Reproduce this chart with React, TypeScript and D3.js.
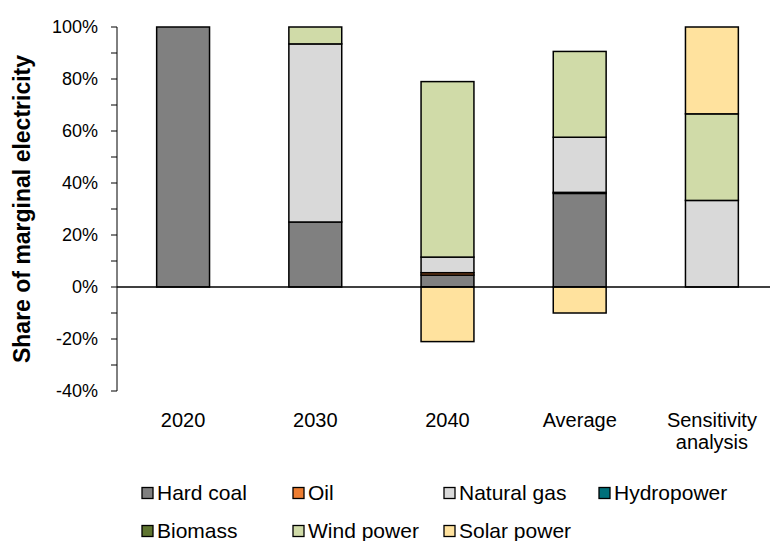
import React from "react";
import * as d3 from "d3";

const categories = ["2020", "2030", "2040", "Average", "Sensitivity analysis"];
const seriesNames = ["Hard coal", "Oil", "Natural gas", "Hydropower", "Biomass", "Wind power", "Solar power"];
const seriesColors = ["#808080", "#ED7D31", "#D9D9D9", "#00707A", "#5F7530", "#D0DBA8", "#FFE29E"];

const hardCoal = [100, 25, 4.6, 36, 0];
const oil = [0, 0, 0.9, 0.4, 0];
const naturalGas = [0, 68.5, 6, 21.2, 33.3];
const hydropower = [0, 0, 0, 0, 0];
const biomass = [0, 0, 0, 0, 0];
const windPower = [0, 6.5, 67.5, 33, 33.3];
const solarPower = [0, 0, -21, -10, 33.4];

const yTicks = [-40, -20, 0, 20, 40, 60, 80, 100];
const yMinorTicks = [-40, -30, -20, -10, 0, 10, 20, 30, 40, 50, 60, 70, 80, 90, 100];

const W = 770;
const H = 541;

export default function App() {
  const seriesData = [hardCoal, oil, naturalGas, hydropower, biomass, windPower, solarPower];
  const rows = categories.map((c, i) => {
    const r: any = { cat: c };
    seriesNames.forEach((s, j) => (r[s] = seriesData[j][i]));
    return r;
  });
  const stack = d3.stack<any>().keys(seriesNames).offset(d3.stackOffsetDiverging);
  const stacked = stack(rows);

  const x = d3.scaleBand<string>().domain(categories).range([117, 778]).paddingInner(0.6).paddingOuter(0.3);
  const y = d3.scaleLinear().domain([-40, 100]).range([391, 27]);

  const font = "'Liberation Sans', Arial, sans-serif";

  const legendPos = [
    [142, 493], [293, 493], [444, 493], [599, 493],
    [142, 531], [293, 531], [444, 531],
  ];

  return (
    <svg width={W} height={H} style={{ position: "absolute", left: 0, top: 0, background: "#fff" }} fontFamily={font}>
      {stacked.map((layer, j) =>
        layer.map((d, i) => {
          const v = seriesData[j][i];
          if (!v) return null;
          const y0 = y(Math.max(d[0], d[1]));
          const y1 = y(Math.min(d[0], d[1]));
          return (
            <rect
              key={`${j}-${i}`}
              x={x(categories[i])!}
              y={y0}
              width={x.bandwidth()}
              height={Math.max(0.5, y1 - y0)}
              fill={seriesColors[j]}
              stroke="#000"
              strokeWidth={1.5}
            />
          );
        })
      )}
      <line x1={117} x2={W} y1={y(0)} y2={y(0)} stroke="#000" strokeWidth={1.5} />
      <line x1={117} x2={117} y1={y(100)} y2={y(-40)} stroke="#000" strokeWidth={1} />
      {yMinorTicks.map((t) => (
        <line key={t} x1={111} x2={117} y1={y(t)} y2={y(t)} stroke="#000" strokeWidth={1} />
      ))}
      {yTicks.map((t) => (
        <text key={t} x={98} y={y(t)} dy="0.35em" textAnchor="end" fontSize={18} fill="#000">
          {t}%
        </text>
      ))}
      <text
        transform={`translate(30, ${(y(100) + y(-40)) / 2}) rotate(-90)`}
        textAnchor="middle"
        fontSize={23}
        fontWeight="bold"
        fill="#000"
      >
        Share of marginal electricity
      </text>
      {categories.map((c) => {
        const cx = x(c)! + x.bandwidth() / 2;
        const parts = c === "Sensitivity analysis" ? ["Sensitivity", "analysis"] : [c];
        return parts.map((p, k) => (
          <text key={c + k} x={cx} y={427 + k * 22} textAnchor="middle" fontSize={20} fill="#000">
            {p}
          </text>
        ));
      })}
      {seriesNames.map((s, j) => (
        <g key={s} transform={`translate(${legendPos[j][0]}, ${legendPos[j][1]})`}>
          <rect x={0} y={-5.5} width={11} height={11} fill={seriesColors[j]} stroke="#000" strokeWidth={1.3} />
          <text x={15} y={0} dy="0.35em" fontSize={21} fill="#000">
            {s}
          </text>
        </g>
      ))}
    </svg>
  );
}
